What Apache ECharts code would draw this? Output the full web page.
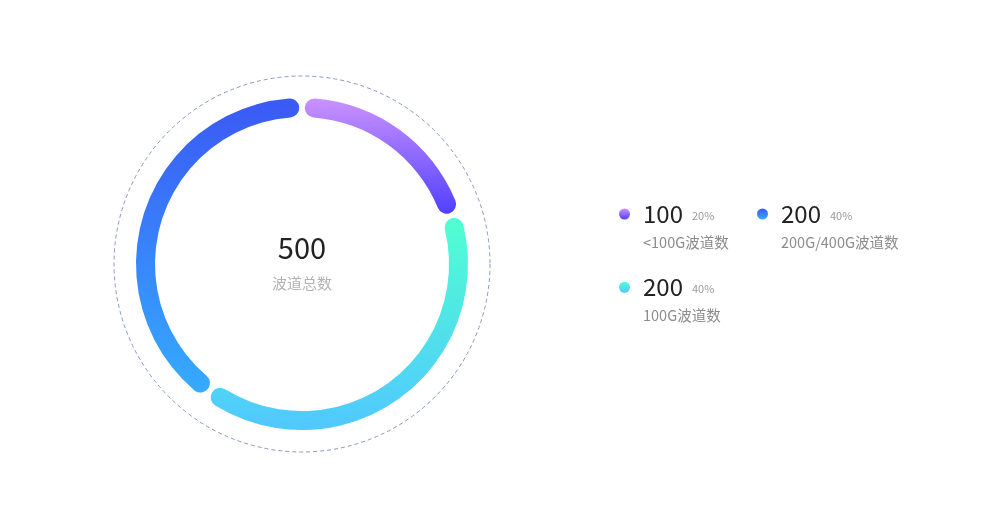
<!DOCTYPE html>
<html>
<head>
<meta charset="utf-8">
<script src="https://cdn.jsdelivr.net/npm/echarts@6/dist/echarts.min.js"></script>
<style>
html,body{margin:0;padding:0;background:#fff;}
#main{width:984px;height:511px;}
</style>
</head>
<body>
<div id="main"></div>
<script>
// Data
const names = ['<100G波道数', '100G波道数', '200G/400G波道数'];
const values = [100, 200, 200];
const legendOrder = ['<100G波道数', '200G/400G波道数', '100G波道数'];
const gradTop = ['#CB92FF', '#50FFD2', '#3B59F5'];
const gradBottom = ['#5040FF', '#50C8FF', '#35ABFF'];
const centerLabel = '波道总数';

const total = values.reduce((a, b) => a + b, 0);
const FONT = '"Noto Sans CJK SC", "Noto Sans", sans-serif';

const chart = echarts.init(document.getElementById('main'));

const pieData = names.map((n, i) => ({
  name: n,
  value: values[i],
  itemStyle: {
    color: new echarts.graphic.LinearGradient(0, 0, 0, 1, [
      { offset: 0, color: gradTop[i] },
      { offset: 1, color: gradBottom[i] }
    ])
  }
}));

const cx = 302, cy = 264;

chart.setOption({
  backgroundColor: '#fff',
  animation: false,
  legend: {
    data: legendOrder,
    orient: 'horizontal',
    left: 619,
    top: 180,
    width: 290,
    padding: 0,
    itemWidth: 11,
    itemHeight: 11,
    itemGap: 4,
    icon: 'circle',
    selectedMode: false,
    textStyle: {
      fontFamily: FONT,
      padding: [0, 0, 0, 8],
      rich: {
        s: { fontSize: 12, lineHeight: 14 },
        v: { fontSize: 24, lineHeight: 42, color: '#222', fontFamily: FONT },
        p: { fontSize: 11, color: '#999', padding: [4, 0, 0, 9], fontFamily: FONT },
        n: { fontSize: 14.5, lineHeight: 14, width: 110, color: '#8c8c8c', fontFamily: FONT }
      }
    },
    formatter: function (name) {
      const i = names.indexOf(name);
      const pct = Math.round(values[i] / total * 100);
      return '{s| }\n{v|' + values[i] + '}{p|' + pct + '%}\n{n|' + name + '}';
    }
  },
  graphic: [
    {
      type: 'circle',
      shape: { cx: cx, cy: cy, r: 188 },
      style: { fill: 'none', stroke: '#8499c6', lineWidth: 1, lineDash: [4, 3] },
      silent: true
    },
    {
      type: 'text',
      x: cx, y: 248,
      style: {
        text: String(total),
        textAlign: 'center',
        textVerticalAlign: 'middle',
        fontSize: 29,
        fontFamily: FONT,
        fill: '#222'
      }
    },
    {
      type: 'text',
      x: cx, y: 283,
      style: {
        text: centerLabel,
        textAlign: 'center',
        textVerticalAlign: 'middle',
        fontSize: 15,
        fontFamily: FONT,
        fill: '#b3b3b3'
      }
    }
  ],
  series: [
    {
      type: 'pie',
      center: [cx, cy],
      radius: [147, 166],
      startAngle: 90,
      clockwise: true,
      padAngle: 2,
      itemStyle: { borderRadius: 10 },
      label: { show: false },
      labelLine: { show: false },
      emphasis: { disabled: true },
      data: pieData
    }
  ]
});
</script>
</body>
</html>
